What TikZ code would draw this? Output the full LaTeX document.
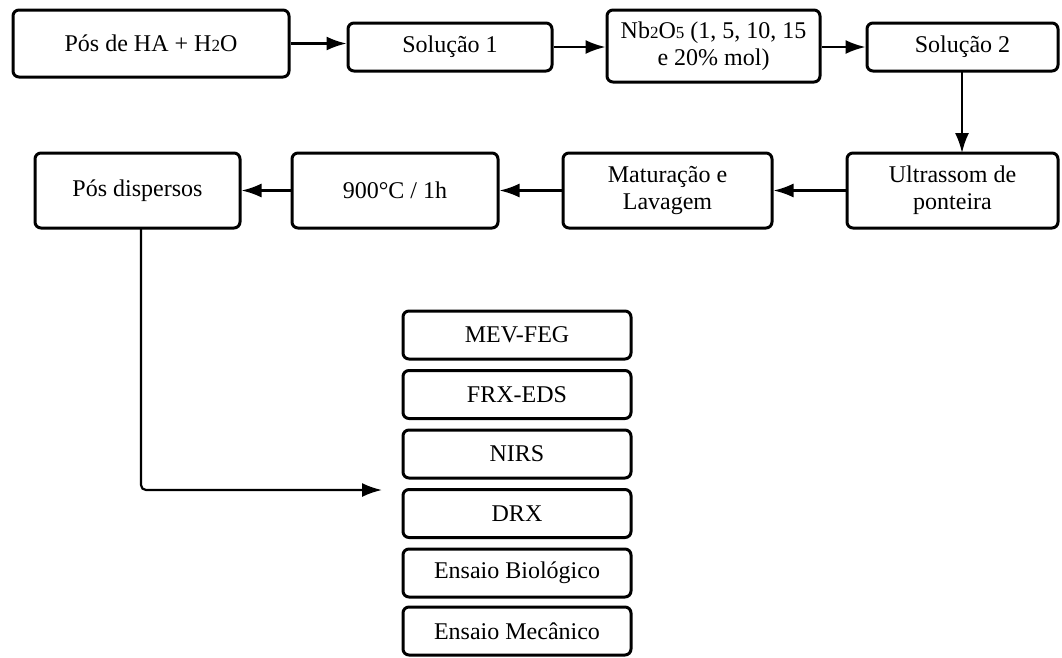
\documentclass[tikz,border=0pt]{standalone}
\usepackage{fontspec}
\setmainfont{Liberation Serif}
\usetikzlibrary{arrows.meta}
\newcommand{\sm}[1]{{\fontsize{17}{17}\selectfont #1}}
\begin{document}
\begin{tikzpicture}[x=1pt,y=-1pt,
  box/.style={draw=black, line width=3pt, rounded corners=6pt, fill=white,
    inner sep=0pt, align=center, font=\fontsize{24}{27}\selectfont},
  conn/.style={line width=2.2pt, -{Latex[length=20pt,width=14pt]}}]
\useasboundingbox (0,0) rectangle (1062,657);
\fill[white] (0,0) rectangle (1062,657);
% row 1
\node[box, minimum width=276pt, minimum height=67pt] (A) at (151,43.5) {Pós de HA + H\sm{2}O};
\node[box, minimum width=204pt, minimum height=48pt] (B) at (450,47) {Solução 1};
\node[box, minimum width=213pt, minimum height=72pt] (C) at (713.5,46) {Nb\sm{2}O\sm{5} (1, 5, 10, 15\\e 20\% mol)};
\node[box, minimum width=191pt, minimum height=48pt] (D) at (962.5,47) {Solução 2};
% row 2
\node[box, minimum width=205pt, minimum height=75pt] (E) at (137.5,190.5) {Pós dispersos};
\node[box, minimum width=206pt, minimum height=75pt] (F) at (395,190.5) {900°C / 1h};
\node[box, minimum width=209pt, minimum height=75pt] (G) at (667.5,190.5) {Maturação e\\Lavagem};
\node[box, minimum width=211pt, minimum height=75pt] (H) at (952.5,190.5) {Ultrassom de\\ponteira};
% bottom list
\node[box, minimum width=228pt, minimum height=48pt] (L1) at (517,335) {MEV-FEG};
\node[box, minimum width=228pt, minimum height=48pt] (L2) at (517,394.5) {FRX-EDS};
\node[box, minimum width=228pt, minimum height=48pt] (L3) at (517,454) {NIRS};
\node[box, minimum width=228pt, minimum height=48pt] (L4) at (517,513.5) {DRX};
\node[box, minimum width=228pt, minimum height=48pt] (L5) at (517,573) {Ensaio Biológico};
\node[box, minimum width=228pt, minimum height=48pt] (L6) at (517,631) {Ensaio Mecânico};
\coordinate (T) at (382,490);
% connectors
\draw[conn] (A.east) -- (A.east -| B.west);
\draw[conn] (B.east) -- (B.east -| C.west);
\draw[conn] (C.east |- D.west) -- (D.west);
\draw[conn] (962,71) -- (962,153);
\draw[conn] (H.west) -- (G.east);
\draw[conn] (G.west) -- (F.east);
\draw[conn] (F.west) -- (E.east);
\draw[conn, rounded corners=5pt] (141,228) |- (T);
\end{tikzpicture}
\end{document}
